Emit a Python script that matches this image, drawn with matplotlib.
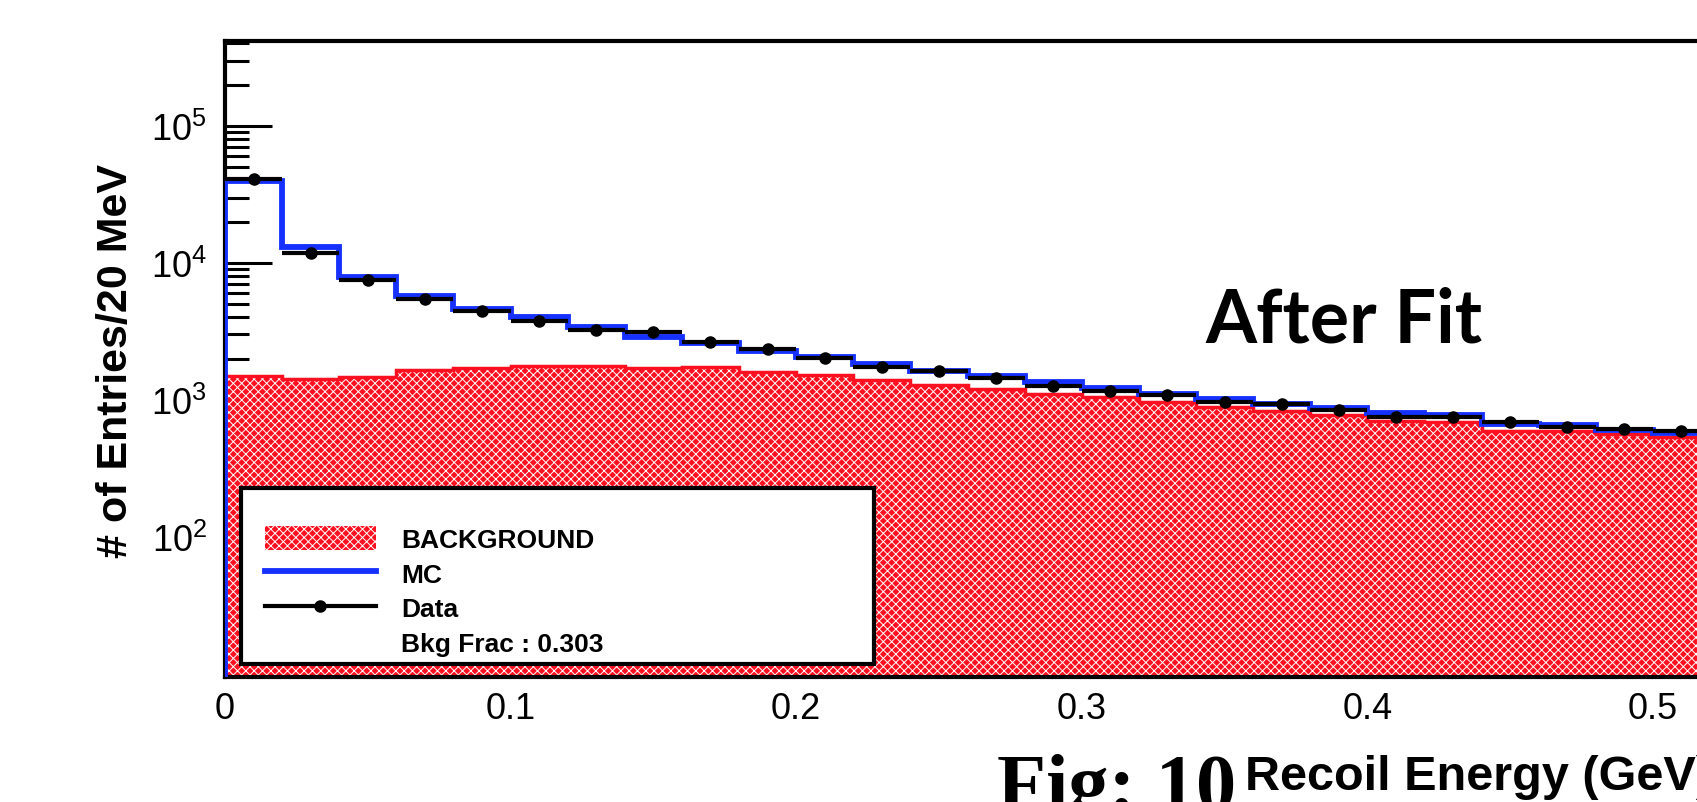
import matplotlib
matplotlib.use("Agg")
import matplotlib.pyplot as plt
import matplotlib.patches as mpatches
import matplotlib.ticker as mticker
from matplotlib.lines import Line2D
import numpy as np

# recoil energy histograms, 20 MeV bins from 0 to 0.52 GeV
bin_width = 0.02
n_bins = 26
mc = [39700, 13000, 7820, 5740, 4590, 4015, 3390, 2870, 2620, 2280,
      2040, 1820, 1630, 1500, 1340, 1210, 1100, 1020, 930, 865,
      800, 773, 665, 654, 604, 571]
data = [41300, 11800, 7480, 5430, 4440, 3775, 3230, 3120, 2650, 2340,
        2005, 1750, 1630, 1440, 1265, 1163, 1082, 957, 930, 845,
        745, 745, 691, 635, 611, 588]
bkg = [1496, 1416, 1457, 1656, 1703, 1771, 1771, 1703, 1724, 1585,
       1522, 1400, 1280, 1197, 1100, 1041, 957, 892, 831, 773,
       703, 691, 594, 594, 562, 532]
x_ticks = [0, 0.1, 0.2, 0.3, 0.4, 0.5]
y_ticks = [1e2, 1e3, 1e4, 1e5]
legend_labels = ["BACKGROUND", "MC", "Data", "Bkg Frac : 0.303"]

edges = np.arange(n_bins + 1) * bin_width
centers = edges[:-1] + bin_width / 2

W, H = 1697, 803
RED = "#ff1020"
BLUE = "#1530ff"

plt.rcParams["font.family"] = ["Liberation Sans", "DejaVu Sans"]
plt.rcParams["hatch.linewidth"] = 0.7

fig = plt.figure(figsize=(W / 100, H / 100), dpi=100)


def fx(px):
    return px / W


def fy(py):
    return 1 - py / H


# axes in pixel terms: left 225, top 42, bottom 678, right runs off the page
ax_left, ax_top, ax_bottom, ax_right = 225, 42, 678, 1710
ax = fig.add_axes([fx(ax_left), fy(ax_bottom),
                   (ax_right - ax_left) / W, (ax_bottom - ax_top) / H])
ax.set_yscale("log")
ax.set_xlim(0, 0.52)
ax.set_ylim(9.46, 4.17e5)
ax.set_axisbelow(True)

# background: hatched red fill + red outline
ax.stairs(bkg, edges, baseline=1, fill=True, facecolor=RED,
          edgecolor="white", hatch="xxxx", linewidth=0, zorder=1)
ax.stairs(bkg, edges, baseline=1, fill=False, color=RED, linewidth=2.5, zorder=1.5)
# MC
ax.stairs(mc, edges, baseline=1, fill=False, color=BLUE, linewidth=4.2, zorder=3)
# data
ax.errorbar(centers, data, xerr=bin_width / 2, fmt="o", color="black",
            markersize=8, elinewidth=3, capsize=0, zorder=4)

for side in ["top", "left", "bottom"]:
    ax.spines[side].set_linewidth(3)
ax.spines["right"].set_visible(False)

ax.set_xticks(x_ticks)
ax.xaxis.set_major_formatter(mticker.FuncFormatter(lambda v, p: "%g" % v))
ax.tick_params(axis="x", which="both", length=0, labelsize=26, pad=10)

ax.set_yticks(y_ticks)
ax.yaxis.set_minor_locator(mticker.LogLocator(base=10, subs=np.arange(2, 10), numticks=20))
ax.yaxis.set_minor_formatter(mticker.NullFormatter())
ax.tick_params(axis="y", which="major", direction="in", length=34, width=2.2,
               labelsize=26, pad=13)
ax.tick_params(axis="y", which="minor", direction="in", length=17, width=2.2)

fig.text(fx(116), fy(361), "# of Entries/20 MeV", rotation=90, ha="center",
         va="center", fontsize=31, fontweight="bold")
fig.text(fx(1712), fy(790), "Recoil Energy (GeV)", ha="right", va="baseline",
         fontsize=35, fontweight="bold")
fig.text(fx(1205), fy(343), "After Fit", ha="left", va="baseline",
         fontsize=53, fontweight="bold", family=["Lato", "DejaVu Sans"])
fig.text(fx(1236), fy(810), "Fig: 10", ha="right", va="baseline",
         fontsize=58, fontweight="bold", family=["Liberation Serif", "DejaVu Serif"])

# legend box drawn on its own so its size matches the ROOT pave
box = mpatches.Rectangle((fx(241), fy(665)), fx(874) - fx(241), (665 - 489) / H,
                         transform=fig.transFigure, facecolor="white",
                         edgecolor="black", linewidth=3, zorder=5)
fig.patches.append(box)

handles = [
    mpatches.Patch(facecolor=RED, edgecolor="white", hatch="xxxx", linewidth=0),
    Line2D([], [], color=BLUE, linewidth=4.2),
    Line2D([], [], color="black", linewidth=3, marker="o", markersize=8),
    mpatches.Patch(color="none"),
]
leg = fig.legend(handles, legend_labels, loc="upper left",
                 bbox_to_anchor=(fx(265), fy(527)), bbox_transform=fig.transFigure,
                 borderaxespad=0, borderpad=0, frameon=False,
                 prop={"weight": "bold", "size": 19}, handlelength=4.2,
                 handleheight=1.0, handletextpad=0.95, labelspacing=0.34,
                 numpoints=1)
leg.set_zorder(6)

fig.savefig("out.png", dpi=100)
